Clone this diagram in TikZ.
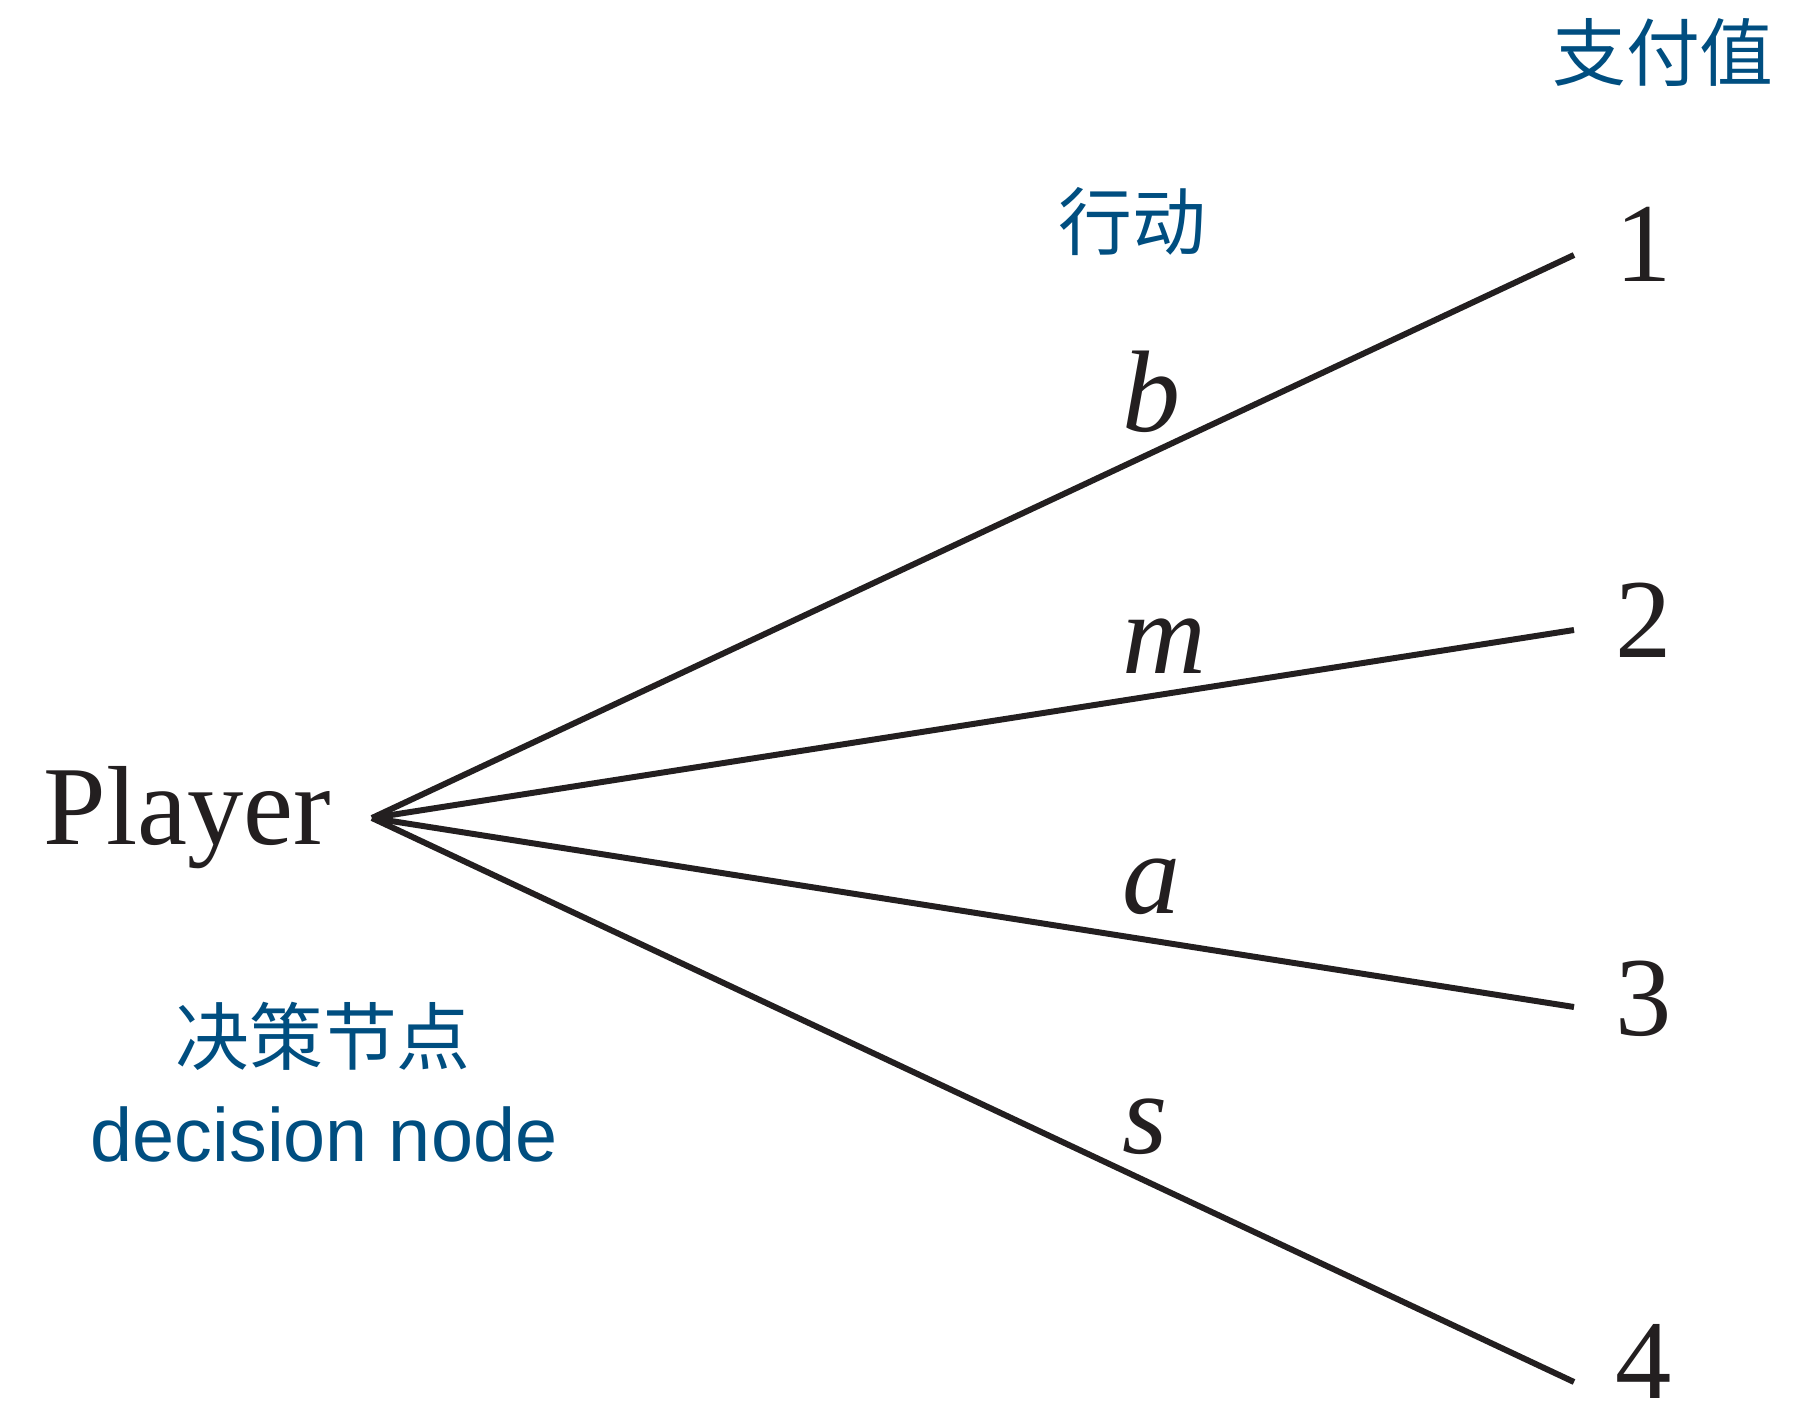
\documentclass[tikz,border=0pt]{standalone}
\usepackage{fontspec}
\setmainfont{Liberation Serif}
\newfontfamily\cjk{Noto Sans CJK SC}
\newfontfamily\sanslabel{Liberation Sans}
\usetikzlibrary{positioning}
\definecolor{TreeBlue}{RGB}{0,78,128}
\definecolor{TreeInk}{HTML}{231F20}

\begin{document}
\begin{tikzpicture}[x=0.01cm, y=-0.01cm,
  every node/.style={inner sep=0pt},
  big/.style={font=\fontsize{32}{38}\selectfont, TreeInk},
  note/.style={font=\fontsize{21}{25}\selectfont\cjk, TreeBlue},
  branch/.style={line width=1.7pt, TreeInk}]
  \useasboundingbox (0,0) rectangle (1794,1413);
  % Decision node
  \coordinate (root) at (372,818);
  \node[big, anchor=base east] (player) at (332,844) {Player};
  \node[note] (nodeCn) at (323,1036) {决策节点};
  \node[font=\fontsize{21.5}{26}\selectfont\sanslabel, TreeBlue, anchor=base] (nodeEn) at (324,1161) {decision node};
  % Branches, actions and payoffs
  \foreach \i/\y/\py/\lbl/\ly in {1/255/282/b/432, 2/630/658/m/673, 3/1007/1035/a/913, 4/1382/1398/s/1153} {
    \coordinate (end\i) at (1574,\y);
    \node[big, anchor=base] (pay\i) at (1644,\py) {\i};
    \node[big, font=\fontsize{33}{38}\selectfont, anchor=base west] (act\i) at (1122,\ly) {\textit{\lbl}};
    \draw[branch] (root) -- (end\i);
  }
  % Column headings
  \node[note] (actHead) at (1132,222) {行动};
  \node[note] (payHead) at (1663,53) {支付值};
\end{tikzpicture}
\end{document}
